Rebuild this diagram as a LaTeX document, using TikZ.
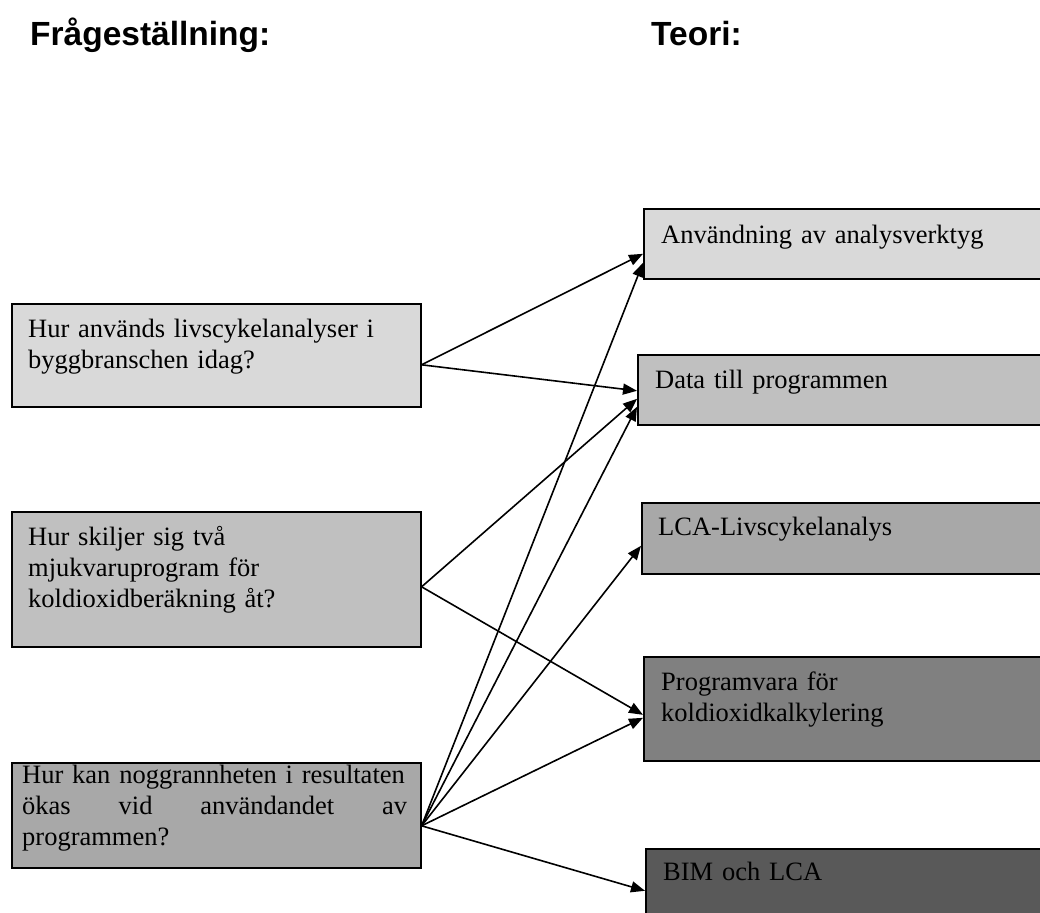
\documentclass[tikz,border=0pt]{standalone}
\usepackage{fontspec}
\setmainfont{Liberation Serif}
\newfontfamily\headfont{Liberation Sans}
\usetikzlibrary{arrows.meta}
\definecolor{gA}{HTML}{D9D9D9}
\definecolor{gB}{HTML}{C0C0C0}
\definecolor{gC}{HTML}{A8A8A8}
\definecolor{gD}{HTML}{808080}
\definecolor{gE}{HTML}{595959}
\tikzset{
  box/.style={draw=black, line width=1.6pt, inner sep=0pt, anchor=north west},
  boxtext/.style={anchor=base west, inner sep=0pt, align=left, text width=#1,
    font=\fontsize{26.5}{31}\selectfont},
  boxtext/.default=395pt,
  heading/.style={anchor=base west, inner sep=0pt, font=\headfont\bfseries\fontsize{33.5}{38}\selectfont},
  link/.style={line width=1.6pt, -{Triangle[length=14pt,width=11pt]}},
}
\begin{document}
\begin{tikzpicture}[x=1pt,y=-1pt]
\useasboundingbox (0,0) rectangle (1040,912);
\clip (0,0) rectangle (1040,912);
% headings
\node[heading] (h1) at (30,46) {Frågeställning:};
\node[heading] (h2) at (651,46) {Teori:};
% left boxes
\node[box, fill=gA, minimum width=409pt, minimum height=103pt] (q1) at (11,303) {};
\node[box, fill=gB, minimum width=409pt, minimum height=135pt] (q2) at (11,511) {};
\node[box, fill=gC, minimum width=409pt, minimum height=105pt] (q3) at (11,762) {};
% right boxes
\node[box, fill=gA, minimum width=430pt, minimum height=70pt] (t1) at (643,208) {};
\node[box, fill=gB, minimum width=430pt, minimum height=70pt] (t2) at (637,354) {};
\node[box, fill=gC, minimum width=430pt, minimum height=71pt] (t3) at (641,502) {};
\node[box, fill=gD, minimum width=430pt, minimum height=104pt] (t4) at (643,656) {};
\node[box, fill=gE, minimum width=430pt, minimum height=90pt] (t5) at (645,848) {};
% texts
\node[boxtext] (q1t) at (28,337) {Hur används livscykelanalyser i\\byggbranschen idag?};
\node[boxtext] (q2t) at (28,545) {Hur skiljer sig två\\mjukvaruprogram för\\koldioxidberäkning åt?};
\node[boxtext] (q3t) at (22,783) {Hur kan noggrannheten i resultaten\\\makebox[385pt][s]{ökas\hfill vid\hfill användandet\hfill av}\\programmen?};
\node[boxtext] (t1t) at (661,243) {Användning av analysverktyg};
\node[boxtext] (t2t) at (655,388) {Data till programmen};
\node[boxtext] (t3t) at (658,535) {LCA-Livscykelanalys};
\node[boxtext] (t4t) at (661,690) {Programvara för\\koldioxidkalkylering};
\node[boxtext] (t5t) at (663,880) {BIM och LCA};
% source points
\coordinate (s1) at ([yshift=-9.5pt]q1.east);
\coordinate (s2) at ([yshift=-7.5pt]q2.east);
\coordinate (s3) at ([yshift=-10.5pt]q3.east);
% arrows
\draw[link] (s1) -- ([yshift=-10pt]t1.west);
\draw[link] (s1) -- ([yshift=-1pt]t2.west);
\draw[link] (s2) -- ([yshift=-9pt]t2.west);
\draw[link] (s2) -- ([yshift=-6pt]t4.west);
\draw[link] (s3) -- ([yshift=-19pt]t1.west);
\draw[link] (s3) -- ([yshift=-17pt]t2.west);
\draw[link] (s3) -- ([yshift=-7.5pt]t3.west);
\draw[link] (s3) -- ([yshift=-9pt]t4.west);
\draw[link] (s3) -- ([yshift=3pt]t5.west);
\end{tikzpicture}
\end{document}
